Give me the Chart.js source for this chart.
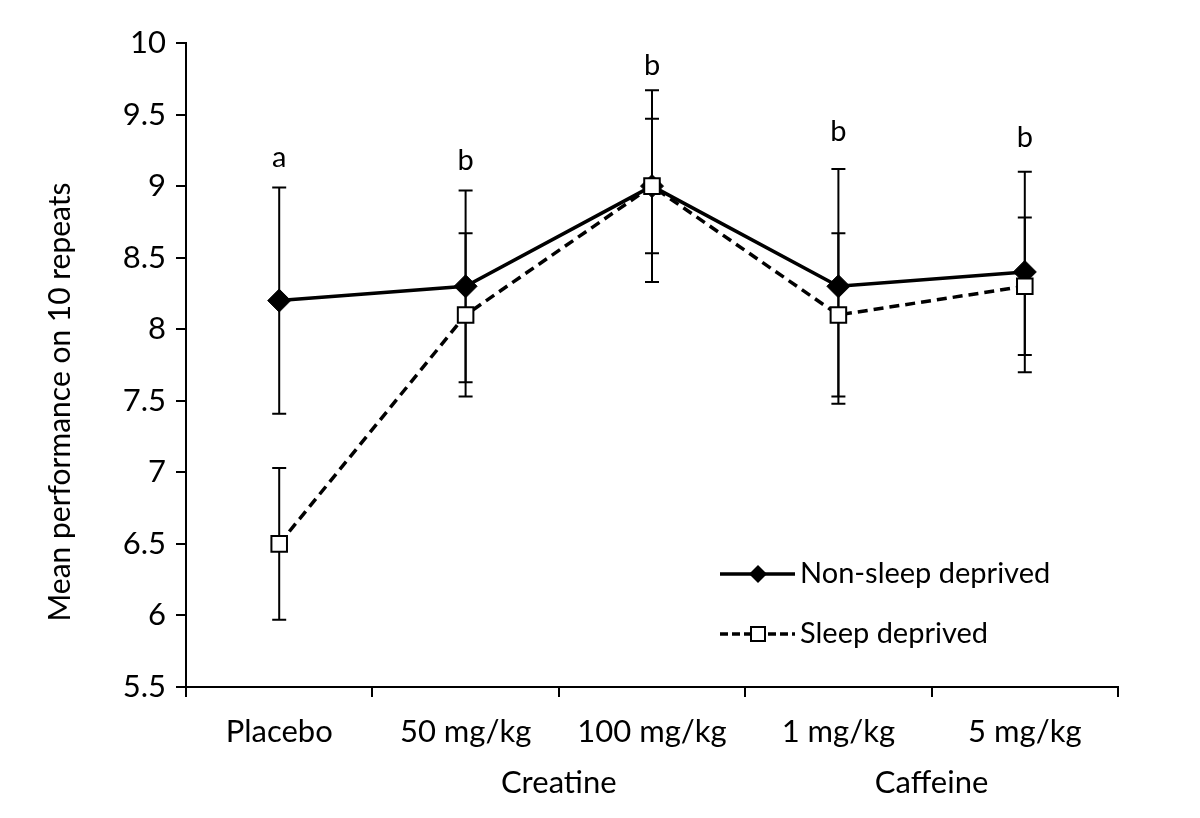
<!DOCTYPE html>
<html>
<head>
<meta charset="utf-8">
<script src="https://cdn.jsdelivr.net/npm/chart.js@4.4.0/dist/chart.umd.min.js"></script>
<style>
html,body{margin:0;padding:0;background:#fff;}
</style>
</head>
<body>
<canvas id="grafico" width="1200" height="818"></canvas>
<script>
// datos
const dosis = ["Placebo", "50 mg/kg", "100 mg/kg", "1 mg/kg", "5 mg/kg"];
const grupos = ["Creatine", "Caffeine"];
const gruposDesde = [1, 3];
const gruposHasta = [2, 4];
const noPrivados = [8.2, 8.3, 9.0, 8.3, 8.4];
const noPrivadosErr = [0.79, 0.67, 0.67, 0.82, 0.70];
const privados = [6.5, 8.1, 9.0, 8.1, 8.3];
const privadosErr = [0.53, 0.57, 0.47, 0.57, 0.48];
const letras = ["a", "b", "b", "b", "b"];
const letrasY = [9.2, 9.18, 9.84, 9.38, 9.34];
const yMin = 5.5, yMax = 10, yPaso = 0.5;
const tituloY = "Mean performance on 10 repeats";
const series = ["Non-sleep deprived", "Sleep deprived"];

const fuente = "Lato";
const negro = "#000";

// barras de error, letras, grupos, titulo y leyenda
const extras = {
    id: "extras",
    beforeDatasetsDraw(chart) {
        const ctx = chart.ctx;
        const xs = chart.scales.x, ys = chart.scales.y;
        ctx.save();
        ctx.strokeStyle = negro;
        ctx.lineWidth = 2;
        [[noPrivados, noPrivadosErr], [privados, privadosErr]].forEach(([vals, errs]) => {
            vals.forEach((v, i) => {
                const x = xs.getPixelForValue(i);
                const y1 = ys.getPixelForValue(v + errs[i]);
                const y2 = ys.getPixelForValue(v - errs[i]);
                ctx.beginPath();
                ctx.moveTo(x, y1); ctx.lineTo(x, y2);
                ctx.moveTo(x - 7, y1); ctx.lineTo(x + 7, y1);
                ctx.moveTo(x - 7, y2); ctx.lineTo(x + 7, y2);
                ctx.stroke();
            });
        });
        ctx.restore();
    },
    afterDraw(chart) {
        const ctx = chart.ctx;
        const xs = chart.scales.x, ys = chart.scales.y;
        ctx.save();
        ctx.fillStyle = negro;
        ctx.textAlign = "center";
        ctx.textBaseline = "middle";
        ctx.font = "29px " + fuente;
        letras.forEach((l, i) => {
            ctx.fillText(l, xs.getPixelForValue(i), ys.getPixelForValue(letrasY[i]));
        });
        ctx.font = "31px " + fuente;
        grupos.forEach((g, i) => {
            const x = (xs.getPixelForValue(gruposDesde[i]) + xs.getPixelForValue(gruposHasta[i])) / 2;
            ctx.fillText(g, x, 783);
        });
        // titulo eje y
        ctx.font = "30px " + fuente;
        ctx.save();
        ctx.translate(60, 402);
        ctx.rotate(-Math.PI / 2);
        ctx.fillText(tituloY, 0, 0);
        ctx.restore();

        // leyenda
        const lx = 720, lw = 75;
        const filas = [574, 634];
        ctx.strokeStyle = negro;
        ctx.lineWidth = 3.5;
        ctx.beginPath();
        ctx.moveTo(lx, filas[0]); ctx.lineTo(lx + lw, filas[0]);
        ctx.stroke();
        ctx.setLineDash([8, 4]);
        ctx.beginPath();
        ctx.moveTo(lx, filas[1]); ctx.lineTo(lx + lw, filas[1]);
        ctx.stroke();
        ctx.setLineDash([]);
        const cx = lx + 38;
        ctx.beginPath();
        ctx.moveTo(cx - 9, filas[0]); ctx.lineTo(cx, filas[0] - 9);
        ctx.lineTo(cx + 9, filas[0]); ctx.lineTo(cx, filas[0] + 9);
        ctx.closePath();
        ctx.fill();
        ctx.fillStyle = "#fff";
        ctx.lineWidth = 2;
        ctx.fillRect(cx - 8, filas[1] - 8, 16, 16);
        ctx.strokeRect(cx - 7, filas[1] - 7, 14, 14);
        ctx.fillStyle = negro;
        ctx.textAlign = "left";
        ctx.font = "29px " + fuente;
        series.forEach((s, i) => ctx.fillText(s, lx + 80, filas[i]));
        ctx.restore();
    }
};

const ctx = document.getElementById("grafico");
new Chart(ctx, {
    type: "line",
    data: {
        labels: dosis,
        datasets: [{
            label: series[0],
            data: noPrivados,
            borderColor: negro,
            backgroundColor: negro,
            borderWidth: 3.5,
            pointStyle: "rectRot",
            pointRadius: 11.5,
            pointBackgroundColor: negro,
            pointBorderColor: negro,
            pointBorderWidth: 1,
            tension: 0,
            order: 2
        }, {
            label: series[1],
            data: privados,
            borderColor: negro,
            borderWidth: 3.5,
            borderDash: [10, 6],
            pointStyle: "rect",
            pointRadius: 11,
            pointBackgroundColor: "#fff",
            pointBorderColor: negro,
            pointBorderWidth: 2,
            tension: 0,
            order: 1
        }]
    },
    options: {
        responsive: false,
        animation: false,
        layout: {padding: {top: 43, right: 82, left: 0, bottom: 0}},
        plugins: {
            legend: {display: false},
            tooltip: {enabled: false}
        },
        scales: {
            x: {
                offset: true,
                grid: {offset: true, drawOnChartArea: false, drawTicks: true, tickLength: 10, color: negro, lineWidth: 2},
                border: {display: true, color: negro, width: 2},
                ticks: {color: negro, font: {family: fuente, size: 31}, padding: 16, maxRotation: 0},
                afterFit: s => { s.height = 131; }
            },
            y: {
                min: yMin,
                max: yMax,
                grid: {drawOnChartArea: false, drawTicks: true, tickLength: 10, color: negro, lineWidth: 2},
                border: {display: true, color: negro, width: 2},
                ticks: {stepSize: yPaso, color: negro, font: {family: fuente, size: 31}, padding: 10,
                    callback: v => String(v)},
                afterFit: s => { s.width = 186; }
            }
        }
    },
    plugins: [extras]
});
</script>
</body>
</html>
